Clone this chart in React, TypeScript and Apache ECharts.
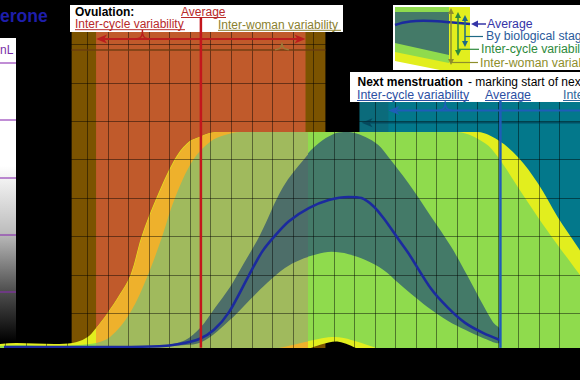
import { useEffect, useRef } from "react";
import * as echarts from "echarts";

type Pt = [number, number];

// x = day of cycle (one grid line per day), y = progesterone level (one grid line per unit)
const interWomanUpper: Pt[] = [
  [-0.3, 0.2], [2.64, 0.2], [3.47, 0.25], [4.0, 0.38], [4.34, 0.57], [4.97, 1.01], [5.55, 1.48],
  [6.09, 2.0], [6.62, 2.99], [7.35, 4.0], [8.22, 4.99], [8.85, 5.43], [9.44, 5.59], [10.02, 5.7],
  [10.65, 5.72], [14, 5.72], [18, 5.72], [23.03, 5.72], [24.0, 5.51], [24.97, 5.07], [25.94, 4.39],
  [26.91, 3.51], [27.88, 2.73], [28.85, 1.87],
];
const interWomanLower: Pt[] = [
  [-0.3, 0], [14.3, 0], [15.0, 0.12], [15.75, 0.24], [16.23, 0.26], [16.72, 0.18],
  [17.2, 0.07], [17.69, 0], [28.85, 0],
];
const interCycleUpper: Pt[] = [
  [-0.3, 0.15], [2.64, 0.15], [4.1, 0.2], [4.44, 0.23], [5.07, 0.38], [6.04, 1.01], [6.91, 2.0],
  [7.59, 2.99], [8.22, 4.0], [9.1, 4.99], [9.92, 5.46], [10.65, 5.64], [11.38, 5.72], [14, 5.72],
  [18, 5.72], [22.06, 5.72], [23.37, 5.43], [24.0, 5.07], [24.97, 4.29], [25.94, 3.51],
  [26.91, 2.78], [27.88, 2.08], [28.85, 1.35],
];
const interCycleLower: Pt[] = [
  [-0.3, 0], [12.35, 0], [13.32, 0.1], [14.29, 0.22], [15.26, 0.33], [15.89, 0.38], [16.48, 0.36],
  [17.2, 0.25], [17.93, 0.12], [18.66, 0], [28.85, 0],
];
const stageUpper: Pt[] = [
  [7.74, 0.15], [8.71, 0.3], [9.44, 0.62], [10.16, 1.14], [10.89, 1.68], [11.38, 2.13], [12.35, 3.04],
  [13.47, 4.29], [14.53, 5.04], [15.26, 5.43], [15.99, 5.67], [16.48, 5.72], [16.96, 5.7],
  [17.54, 5.59], [18.17, 5.38], [18.66, 5.07], [19.63, 4.39], [20.75, 3.51], [21.72, 2.73],
  [22.54, 1.95], [23.27, 1.22], [23.76, 0.77], [24.12, 0.57],
];
const stageLower: Pt[] = [
  [7.98, 0.15], [9.44, 0.23], [11.04, 0.9], [11.86, 1.35], [12.69, 1.79], [13.56, 2.18], [14.29, 2.39],
  [15.17, 2.54], [15.89, 2.6], [16.72, 2.54], [17.54, 2.39], [18.42, 2.13], [19.15, 1.79],
  [19.97, 1.42], [20.75, 1.09], [21.57, 0.8], [22.4, 0.57], [23.27, 0.36], [24.12, 0.23],
];
const averageLevel: Pt[] = [
  [-0.3, 0.12], [5.55, 0.12], [7.5, 0.14], [8.47, 0.2], [9.44, 0.33], [10.16, 0.57], [10.89, 1.03],
  [11.86, 1.99], [12.5, 2.6], [13.08, 2.99], [13.81, 3.4], [14.78, 3.74], [15.75, 3.95], [16.72, 4.03],
  [17.35, 4.0], [17.93, 3.79], [18.42, 3.48], [19.15, 2.93], [19.63, 2.57], [20.75, 1.63],
  [21.57, 1.14], [22.4, 0.75], [23.27, 0.49], [24.12, 0.3],
];

// event ranges (days)
const ovulationInterWoman = [3.22, 15.59];
const ovulationInterCycle = [4.41, 14.62];
const ovulationAverage = 9.52;
const menstruationInterWoman = [17.25, 29.5];
const menstruationInterCycle = [18.66, 29.5];
const menstruationAverage = 24.12;

// layout constants
const X_LEFT = 5.6;
const DAY_PX = 20.6;
const Y_BASE = 351.7;
const UNIT_PX = 38.4;
const X_MAX = 28;
const Y_MAX = 9;
const OV_TOP = 8.4;
const MENS_TOP = 6.5;
const FONT = '"Liberation Sans", Arial, sans-serif';

const C = {
  brown: "#7b5300",
  orange: "#c05a2b",
  tealDark: "#0b6b7b",
  teal: "#03788b",
  yellow: "#e2ee1e",
  green: "#8fdb4d",
  dark: "#447a68",
  yellowT: "#eeb12c",
  greenT: "#a0ba5d",
  darkT: "#4d6e69",
  navy: "#1b2a9e",
  red: "#bb1d1d",
  redText: "#b82a2a",
  olive: "#8a7f2e",
  blue: "#1f5db8",
  blueText: "#2b4fa3",
};

function bounds(pts: number[][]) {
  let x0 = Infinity, y0 = Infinity, x1 = -Infinity, y1 = -Infinity;
  for (const p of pts) {
    x0 = Math.min(x0, p[0]); y0 = Math.min(y0, p[1]);
    x1 = Math.max(x1, p[0]); y1 = Math.max(y1, p[1]);
  }
  return [[x0, y0], [x1, y1]];
}

function polygonSeries(upper: Pt[], lower: Pt[], color: string, z: number, axis: number) {
  const pts = [...upper, ...[...lower].reverse()];
  return {
    type: "custom",
    xAxisIndex: axis,
    yAxisIndex: axis,
    z,
    clip: axis === 1,
    silent: true,
    data: [upper[Math.floor(upper.length / 2)]],
    renderItem: (_p: any, api: any) => {
      const px = pts.map((p) => api.coord(p));
      return {
        type: "polygon",
        shape: { points: px, smooth: 0.35, smoothConstraint: bounds(px) },
        style: { fill: color },
      };
    },
  };
}

const bandRanges = [ovulationInterWoman, ovulationInterCycle, menstruationInterWoman, menstruationInterCycle];
const bandTops = [OV_TOP, OV_TOP, MENS_TOP, MENS_TOP];
const bandColors = [C.brown, C.orange, C.tealDark, C.teal];

function T(text: string, x: number, y: number, fill: string, size = 12, weight = "normal", align = "left") {
  return {
    type: "text",
    x,
    y,
    z: 12,
    silent: true,
    style: {
      text,
      fill,
      fontSize: size,
      fontWeight: weight,
      fontFamily: FONT,
      align,
      verticalAlign: "middle",
      textAlign: align,
      textVerticalAlign: "middle",
    },
  };
}
function L(x1: number, y1: number, x2: number, y2: number, stroke: string, lineWidth = 1, z = 12) {
  return { type: "line", z, silent: true, shape: { x1, y1, x2, y2 }, style: { stroke, lineWidth } };
}
function P(points: number[][], fill: string, z = 12) {
  return { type: "polygon", z, silent: true, shape: { points }, style: { fill } };
}
function vArrow(x: number, y1: number, y2: number, color: string) {
  return [
    L(x, y1 + 4, x, y2 - 4, color, 1.5, 13),
    P([[x, y1], [x - 3, y1 + 6], [x + 3, y1 + 6]], color, 13),
    P([[x, y2], [x - 3, y2 - 6], [x + 3, y2 - 6]], color, 13),
  ];
}

function buildOption() {
  const axisCommon = {
    type: "value",
    interval: 1,
    z: 8,
    axisLine: { show: false },
    axisTick: { show: false },
    axisLabel: { show: false },
    splitLine: { show: true, lineStyle: { color: "rgba(0,0,0,0.45)", width: 1 } },
  };
  const panelGradient = new echarts.graphic.LinearGradient(0, 0, 0, 1, [
    { offset: 0, color: "#ffffff" },
    { offset: 0.42, color: "#ffffff" },
    { offset: 0.64, color: "#bdbdbd" },
    { offset: 0.83, color: "#505050" },
    { offset: 1, color: "#000000" },
  ]);

  const graphics: any[] = [
    { type: "rect", z: 10, silent: true, shape: { x: 0, y: 348, width: 580, height: 40 }, style: { fill: "#000" } },
    // left axis panel
    { type: "rect", z: 11, silent: true, shape: { x: 0, y: 38, width: 16, height: 304 }, style: { fill: panelGradient } },
    ...[63, 120, 178, 235, 292].map((y) => L(0, y, 16, y, "rgba(138,43,176,0.9)", 1.2)),
    T("nL", 0, 50, "#7b2fa8", 12),
    T("erone", 0, 16, "#1e1eaa", 17.5, "bold"),
    // ovulation label box
    { type: "rect", z: 11, silent: true, shape: { x: 70, y: 5, width: 273, height: 27 }, style: { fill: "#fff" } },
    T("Ovulation:", 75, 12.3, "#000", 12, "bold"),
    T("Average", 181, 11.6, C.redText, 12),
    L(181, 17.5, 226, 17.5, C.redText, 1),
    T("Inter-cycle variability", 75, 24.4, C.redText, 12),
    L(75, 29.7, 185, 29.7, C.redText, 1),
    T("Inter-woman variability", 218, 25, C.olive, 12),
    L(218, 30.3, 341, 30.3, C.olive, 1),
    // next menstruation label box
    { type: "rect", z: 11, silent: true, shape: { x: 350, y: 72, width: 232, height: 30 }, style: { fill: "#fff" } },
    T("Next menstruation", 357.5, 81.5, "#000", 12, "bold"),
    T("- marking start of next cycle", 468, 81.5, "#000", 12),
    T("Inter-cycle variability", 357, 95.3, C.blueText, 12.4),
    L(357, 100.5, 469, 100.5, C.blueText, 1),
    T("Average", 485, 95.3, C.blueText, 12.4),
    L(485, 100.5, 531, 100.5, C.blueText, 1),
    T("Inter-woman variability", 563, 95.3, "#2f6a9c", 12.4),
    L(563, 100.5, 600, 100.5, "#2f6a9c", 1),
    // legend box
    { type: "rect", z: 11, silent: true, shape: { x: 393, y: 5, width: 190, height: 65 }, style: { fill: "#fff" } },
    P([[395, 7], [470, 7], [470, 70], [440, 70], [395, 61]], C.yellow),
    P([[395, 7], [449, 7], [449, 63], [395, 52]], C.green),
    P([[395, 12], [449, 12], [449, 55], [395, 43]], C.dark),
    {
      type: "polyline", z: 13, silent: true,
      shape: { points: [[395, 25], [404, 22.5], [416, 21], [432, 21], [450, 22.3], [470, 24]], smooth: 0.3 },
      style: { stroke: C.navy, lineWidth: 2.5, fill: "none" },
    },
    ...vArrow(451, 8, 65, "#8e8e2c"),
    ...vArrow(458, 12, 56, "#2e8a3c"),
    ...vArrow(465, 15, 47, "#1f6a86"),
    L(476, 24, 486, 24, "#3535a8", 1.5, 13),
    P([[471, 24], [478, 20.5], [478, 27.5]], "#3535a8", 13),
    L(465, 36.5, 483, 36.5, "#1f6a86", 1.2, 13),
    L(458, 49.3, 479, 49.3, "#2e8a3c", 1.2, 13),
    L(451, 62.5, 478, 62.5, "#8e8e2c", 1.2, 13),
    T("Average", 487, 23.5, "#3535a8", 12.3),
    T("By biological stage", 486, 36.3, "#2b5b9b", 12.3),
    T("Inter-cycle variability", 481, 49.3, "#2e8a3c", 12.3),
    T("Inter-woman variability", 480, 62.6, "#8e8e2c", 12.3),
  ];

  const series: any[] = [
    {
      type: "custom",
      z: 1,
      clip: false,
      silent: true,
      data: bandRanges.map((r, i) => [r[0], bandTops[i]]),
      renderItem: (params: any, api: any) => {
        const i = params.dataIndex;
        const p0 = api.coord([bandRanges[i][0], bandTops[i]]);
        const p1 = api.coord([bandRanges[i][1], 0]);
        return {
          type: "rect",
          shape: { x: p0[0], y: p0[1], width: p1[0] - p0[0], height: p1[1] - p0[1] },
          style: { fill: bandColors[i] },
        };
      },
    },
    polygonSeries(interWomanUpper, interWomanLower, C.yellow, 2, 0),
    polygonSeries(interCycleUpper, interCycleLower, C.green, 3, 0),
    polygonSeries(stageUpper, stageLower, C.dark, 4, 0),
    polygonSeries(interWomanUpper, interWomanLower, C.yellowT, 5, 1),
    polygonSeries(interCycleUpper, interCycleLower, C.greenT, 6, 1),
    polygonSeries(stageUpper, stageLower, C.darkT, 7, 1),
    {
      type: "line",
      data: averageLevel,
      smooth: 0.3,
      symbol: "none",
      showSymbol: false,
      clip: false,
      silent: true,
      z: 9,
      lineStyle: { color: C.navy, width: 2.6 },
    },
    {
      type: "custom",
      z: 13,
      clip: false,
      silent: true,
      data: [[ovulationAverage, 0]],
      renderItem: (_p: any, api: any) => {
        const c = (d: number, v: number) => api.coord([d, v]);
        const children: any[] = [];
        const seg = (a: number[], b: number[], stroke: string, lineWidth: number) =>
          children.push({ type: "line", shape: { x1: a[0], y1: a[1], x2: b[0], y2: b[1] }, style: { stroke, lineWidth } });
        const head = (tip: number[], dir: number, fill: string) =>
          children.push({
            type: "polygon",
            shape: {
              points: [[tip[0], tip[1]], [tip[0] - dir * 11, tip[1] - 4.5], [tip[0] - dir * 8, tip[1]], [tip[0] - dir * 11, tip[1] + 4.5]],
            },
            style: { fill },
          });
        const brace = (p: number[], top: number | null, stroke: string) => {
          children.push({
            type: "polyline",
            shape: {
              points: [[p[0] - 7, p[1]], [p[0] - 2.5, p[1] - 1.2], [p[0] - 1, p[1] - 3], [p[0], p[1] - 6], [p[0] + 1, p[1] - 3], [p[0] + 2.5, p[1] - 1.2], [p[0] + 7, p[1]]],
            },
            style: { stroke, lineWidth: 1.5, fill: "none" },
          });
          if (top !== null) seg([p[0], p[1] - 6], [p[0], top], stroke, 1.5);
        };
        // ovulation inter-woman range line
        seg(c(ovulationInterWoman[0], 7.86), c(ovulationInterWoman[1], 7.86), "rgba(105,60,15,0.9)", 1.5);
        brace(c(13.47, 7.86), null, "#9a7a3a");
        // ovulation inter-cycle arrow
        const l = c(ovulationInterCycle[0], 8.14);
        const r = c(ovulationInterCycle[1], 8.14);
        seg([l[0] + 8, l[1]], [r[0] - 8, r[1]], C.red, 2);
        head(l, -1, C.red);
        head(r, 1, C.red);
        brace(c(6.67, 8.14), c(6.67, 8.38)[1], C.red);
        // ovulation average
        seg(c(ovulationAverage, 8.7), c(ovulationAverage, 0.1), "#c3161c", 2.5);
        // menstruation inter-woman (faint)
        const fw = c(menstruationInterWoman[0] + 0.1, 5.96);
        seg([fw[0] + 8, fw[1]], c(29.5, 5.96), "rgba(0,45,70,0.55)", 1.5);
        head(fw, -1, "rgba(0,45,70,0.55)");
        // menstruation inter-cycle arrow
        const ml = c(menstruationInterCycle[0], 6.28);
        seg([ml[0] + 8, ml[1]], c(29.5, 6.28), C.blue, 2);
        head(ml, -1, C.blue);
        brace(c(21.43, 6.28), c(21.43, 6.52)[1], C.blue);
        // menstruation average
        seg(c(menstruationAverage, 6.55), c(menstruationAverage, 0.1), C.blue, 2.5);
        return { type: "group", children };
      },
    },
  ];

  return {
    animation: false,
    backgroundColor: "#000",
    grid: [
      { left: X_LEFT, top: Y_BASE - UNIT_PX * Y_MAX, width: DAY_PX * X_MAX, height: UNIT_PX * Y_MAX },
      {
        left: X_LEFT + DAY_PX * ovulationInterCycle[0],
        top: Y_BASE - UNIT_PX * Y_MAX,
        width: DAY_PX * (ovulationInterCycle[1] - ovulationInterCycle[0]),
        height: UNIT_PX * Y_MAX,
      },
    ],
    xAxis: [
      { ...axisCommon, gridIndex: 0, min: 0, max: X_MAX },
      { type: "value", gridIndex: 1, min: ovulationInterCycle[0], max: ovulationInterCycle[1], show: false },
    ],
    yAxis: [
      { ...axisCommon, gridIndex: 0, min: 0, max: Y_MAX },
      { type: "value", gridIndex: 1, min: 0, max: Y_MAX, show: false },
    ],
    series,
    graphic: { elements: graphics },
  };
}

export default function App() {
  const ref = useRef<HTMLDivElement>(null);
  useEffect(() => {
    document.body.style.margin = "0";
    document.body.style.background = "#000";
    const chart = echarts.init(ref.current!, undefined, { renderer: "svg", width: 580, height: 380 });
    chart.setOption(buildOption() as any);
    return () => chart.dispose();
  }, []);
  return <div ref={ref} style={{ position: "fixed", left: 0, top: 0, width: 580, height: 380, overflow: "hidden" }} />;
}
